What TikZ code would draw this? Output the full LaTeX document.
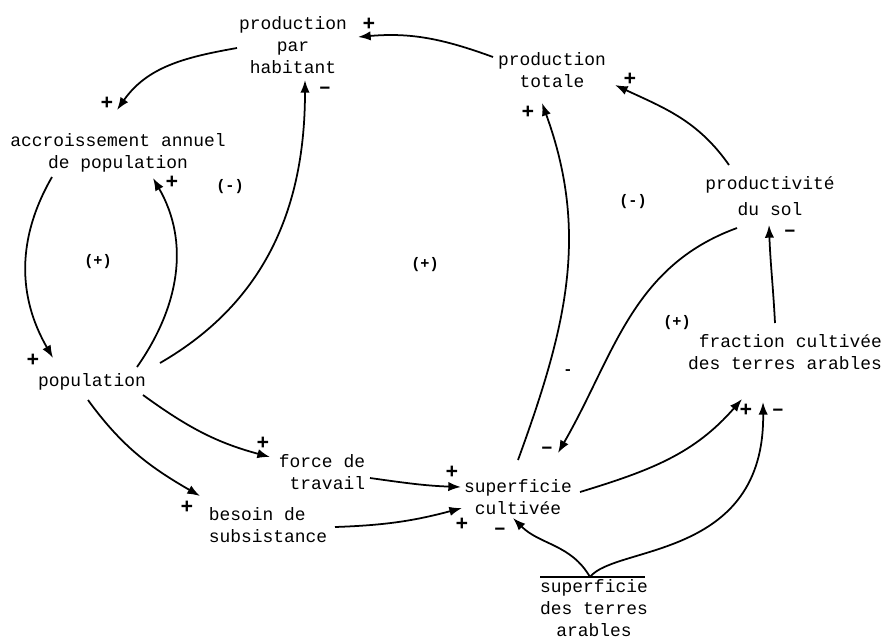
\documentclass[tikz,border=0pt]{standalone}
\usepackage{fontspec}
\setmonofont{Liberation Mono}
\usetikzlibrary{arrows.meta}

\tikzset{
  var/.style={font=\ttfamily\fontsize{15.3}{18.5}\selectfont, inner sep=0pt, align=center},
  sgn/.style={font=\ttfamily\bfseries\fontsize{18}{18}\selectfont, inner sep=0pt},
  lp/.style={font=\ttfamily\bfseries\fontsize{13}{13}\selectfont, inner sep=0pt},
  lnk/.style={line width=1.5pt, -{Latex[length=3.8mm, width=2.8mm]}},
}

\begin{document}
\begin{tikzpicture}[x=0.3mm, y=0.3mm]
	\useasboundingbox (0,0) rectangle (883,-638);
	%\draw[help lines] (0,0) grid[step=50] (883,-638);

	% variables
	\node[var] (pph) at (293,-45) {production\\par\\habitant};
	\node[var] (pt) at (552,-70) {production\\totale};
	\node[var] (acc) at (118,-153) {accroissement annuel\\de population};
	\node[var] (pop) at (92,-382) {population};
	\node[var] (psol) at (770,-196) {productivité\\[1.3mm]du sol};
	\node[var, align=right] (frac) at (785,-352) {fraction cultivée\\des terres arables};
	\node[var, align=right] (force) at (322,-472) {force de\\travail};
	\node[var, align=left] (besoin) at (268,-525) {besoin de\\subsistance};
	\node[var] (sc) at (518,-497) {superficie\\cultivée};
	\node[var] (sdta) at (594,-608) {superficie\\des terres\\arables};
	\coordinate (src) at ([shift={(-4,31)}]sdta.center);
	\draw[line width=1.2pt] ([shift={(-50,0)}]src) -- ([shift={(55,0)}]src);

	% liens
	\draw[lnk] ([shift={(-59,13)}]pt.center) to[out=160,in=5] ([shift={(65,8)}]pph.center);
	\draw[lnk] ([shift={(-56,-3)}]pph.center) to[out=190,in=55] ([shift={(-1,43)}]acc.center);
	\draw[lnk] ([shift={(-66,-24)}]acc.center) to[out=240,in=120] ([shift={(-39,24)}]pop.center);
	\draw[lnk] ([shift={(45,15)}]pop.center) to[out=55,in=-60] ([shift={(35,-25)}]acc.center);
	\draw[lnk] ([shift={(68,19)}]pop.center) to[out=30,in=-90] ([shift={(12,-35)}]pph.center);
	\draw[lnk] ([shift={(51,-13)}]pop.center) to[out=-36,in=165] ([shift={(-52,15)}]force.center);
	\draw[lnk] ([shift={(-4,-18)}]pop.center) to[out=-54,in=150] ([shift={(-68,29)}]besoin.center);
	\draw[lnk] ([shift={(48,-6)}]force.center) to[out=-8,in=178] ([shift={(-57,10)}]sc.center);
	\draw[lnk] ([shift={(67,-2)}]besoin.center) to[out=2,in=195] ([shift={(-56,-11)}]sc.center);
	\draw[lnk] ([shift={(0,37)}]sc.center) to[out=70,in=-70] ([shift={(-10,-33)}]pt.center);
	\draw[lnk] ([shift={(-33,-32)}]psol.center) to[out=200,in=60] ([shift={(40,44)}]sc.center);
	\draw[lnk] ([shift={(-10,29)}]frac.center) to[out=93,in=-88] ([shift={(-1,-29)}]psol.center);
	\draw[lnk] ([shift={(-41,31)}]psol.center) to[out=125,in=-25] ([shift={(63,-15)}]pt.center);
	\draw[lnk] ([shift={(62,5)}]sc.center) to[out=17,in=-131] ([shift={(-43,-47)}]frac.center);
	\draw[lnk] (src) to[out=120,in=-45] ([shift={(-5,-21)}]sc.center);
	\draw[lnk] (src) .. controls +(25,32) and +(2,-158) .. ([shift={(-22,-50)}]frac.center);

	% signes
	\node[sgn] (sA) at (369,-24) {+};
	\node[sgn] (sB) at (107,-103) {+};
	\node[sgn] (sC) at (172,-182) {+};
	\node[sgn] (sD) at (325,-90) {–};
	\node[sgn] (sE) at (33,-360) {+};
	\node[sgn] (sF) at (263,-443) {+};
	\node[sgn] (sG) at (187,-507) {+};
	\node[sgn] (sH) at (452,-472) {+};
	\node[sgn] (sI) at (462,-524) {+};
	\node[sgn] (sJ) at (500,-531) {–};
	\node[sgn] (sK) at (547,-450) {–};
	\node[lp] (sL) at (568,-372) {-};
	\node[sgn] (sM) at (528,-112) {+};
	\node[sgn] (sN) at (630,-79) {+};
	\node[sgn] (sO) at (790,-233) {–};
	\node[sgn] (sP) at (746,-410) {+};
	\node[sgn] (sQ) at (778,-412) {–};

	% boucles
	\node[lp] (lA) at (230,-187) {(-)};
	\node[lp] (lB) at (98,-262) {(+)};
	\node[lp] (lC) at (425,-265) {(+)};
	\node[lp] (lD) at (633,-202) {(-)};
	\node[lp] (lE) at (677,-323) {(+)};
\end{tikzpicture}
\end{document}
